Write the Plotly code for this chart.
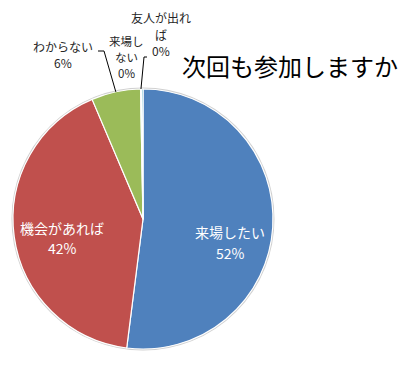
import math
import plotly.graph_objects as go

# ---- data ----
labels = ["来場したい", "機会があれば", "わからない", "来場しない", "友人が出れば"]
values = [52.0, 41.6, 6.1, 0.1, 0.2]
colors = ["#4F81BD", "#C0504D", "#9BBB59", "#8064A2", "#4BACC6"]
title_text = "次回も参加しますか"

# ---- layout constants (pixels) ----
W, H = 411, 378
cx, cy, r = 143, 219, 130

total = sum(values)
pcts = [f"{round(v / total * 100)}%" for v in values]


def px(x):
    return x / W


def py(y):
    return 1 - y / H


# label placement: (label line breaks, x center, y of first line, line gap, font size, color, leader start)
label_layout = [
    (["来場したい"], 230, 232, 21, 14, "white", None),
    (["機会があれば"], 62, 228, 20, 14, "white", None),
    (["わからない"], 63, 47, 16, 12, "#262626", [(98, 51), (104, 51)]),
    (["来場し", "ない"], 126, 41.5, 16, 11.5, "#262626", [(147, 57), (144, 57)]),
    (["友人が出れ", "ば"], 161, 17, 17, 12, "#262626", None),
]

fig = go.Figure()
# faint outer rim (Excel-like soft edge)
fig.add_trace(go.Pie(
    values=[total], labels=[""], sort=False, textinfo="none", hoverinfo="skip",
    marker=dict(colors=["#ffffff"], line=dict(color="#d0d0d0", width=3)),
    showlegend=False,
    domain=dict(x=[px(cx - r), px(cx + r)], y=[py(cy + r), py(cy - r)]),
))
fig.add_trace(go.Pie(
    labels=labels, values=values, sort=False, direction="clockwise", rotation=0,
    marker=dict(colors=colors, line=dict(color="white", width=1.2)),
    textinfo="none", hoverinfo="label+percent",
    showlegend=False,
    domain=dict(x=[px(cx - r), px(cx + r)], y=[py(cy + r), py(cy - r)]),
))

# labels
cum = 0.0
for i, (lines, lx, ly, gap, size, col, leader) in enumerate(label_layout):
    all_lines = lines + [pcts[i]]
    for k, t in enumerate(all_lines):
        fig.add_annotation(text=t, x=px(lx), y=py(ly + k * gap), xref="paper", yref="paper",
                           xanchor="center", yanchor="middle", showarrow=False,
                           font=dict(size=size, color=col, family="Noto Sans CJK JP"))
    mid = (cum + values[i] / 2) / total * 2 * math.pi
    cum += values[i]
    if leader:
        ex = cx + r * math.sin(mid)
        ey = cy - r * math.cos(mid)
        pts = leader + [(ex, ey)]
        path = "M " + " L ".join(f"{px(a)},{py(b)}" for a, b in pts)
        fig.add_shape(type="path", path=path, xref="paper", yref="paper",
                      line=dict(color="black", width=1))

fig.add_annotation(text=title_text, x=px(290), y=py(65), xref="paper", yref="paper",
                   xanchor="center", yanchor="middle", showarrow=False,
                   font=dict(size=24, color="black", family="Noto Sans CJK JP"))

fig.update_layout(width=W, height=H, margin=dict(l=0, r=0, t=0, b=0),
                  paper_bgcolor="white", plot_bgcolor="white",
                  font=dict(family="Noto Sans CJK JP"))
fig.write_html("out.html", config={"displayModeBar": False},
               post_script="document.body.style.margin='0';")
